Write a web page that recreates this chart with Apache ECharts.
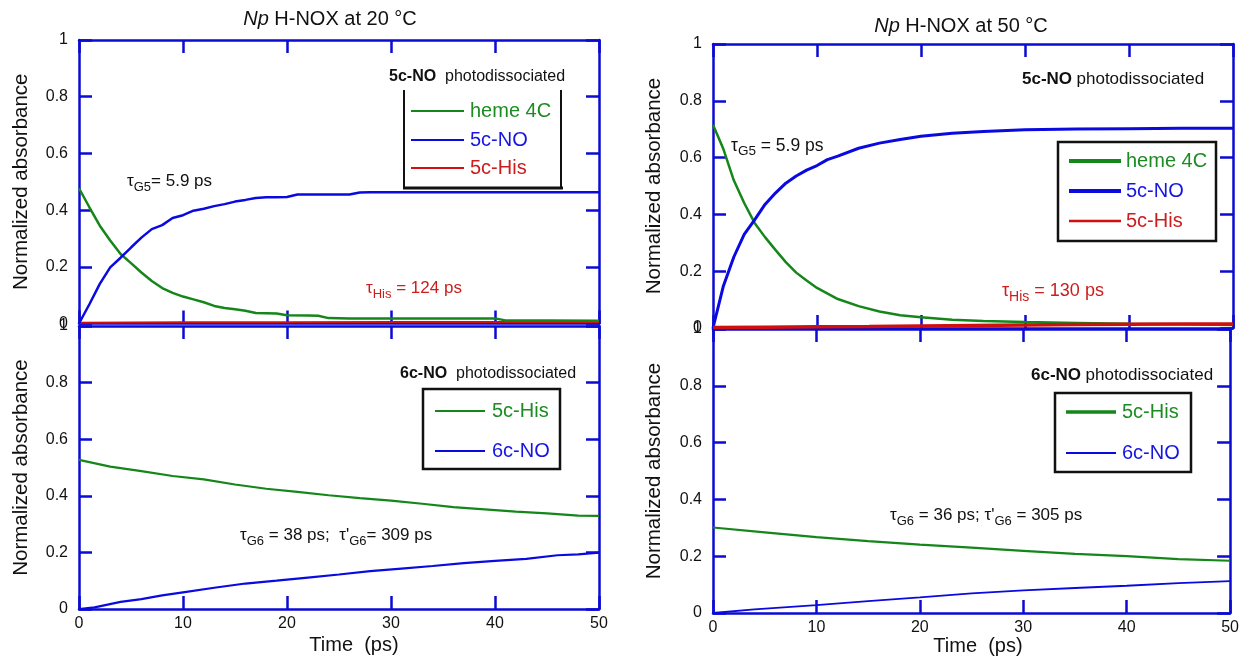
<!DOCTYPE html>
<html>
<head>
<meta charset="utf-8">
<script src="https://cdn.jsdelivr.net/npm/echarts@6/dist/echarts.min.js"></script>
<style>
html,body{margin:0;padding:0;background:#fff;}
#chart{width:1242px;height:657px;}
</style>
</head>
<body>
<div id="chart"></div>
<script>
// ---------------- DATA ----------------
const xTicks = [0, 10, 20, 30, 40, 50];
const yTicks = [0, 0.2, 0.4, 0.6, 0.8, 1];

// Top-left: 20 °C, 5c-NO photodissociated
const tTLheme = [0,1,2,3,4,5,6,7,8,9,10,11,12,13,14,15,16,17,18,19,20,22,23,24,26,28,30,35,40,41,45,50];
const tlHeme  = [0.477,0.41,0.345,0.293,0.245,0.213,0.18,0.15,0.125,0.108,0.095,0.085,0.075,0.062,0.055,0.05,0.045,0.037,0.036,0.035,0.029,0.028,0.027,0.019,0.018,0.018,0.018,0.018,0.018,0.011,0.011,0.01];
const tTLno   = [0,1,2,3,4,5,6,7,8,9,10,11,12,13,14,15,16,17,18,19,20,21,22,24,26,27,28,30,35,40,45,50];
const tlNO    = [0,0.068,0.14,0.198,0.232,0.268,0.303,0.333,0.347,0.372,0.382,0.398,0.405,0.414,0.421,0.43,0.436,0.443,0.445,0.445,0.446,0.455,0.455,0.455,0.455,0.462,0.463,0.463,0.463,0.463,0.463,0.463];
const tTLhis  = [0,10,20,30,40,50];
const tlHis   = [0.003,0.004,0.004,0.005,0.005,0.005];

// Bottom-left: 20 °C, 6c-NO photodissociated
const tBLhis  = [0,3,6,9,12,15,18,21,24,27,30,33,36,39,42,45,48,50];
const blHis   = [0.527,0.503,0.487,0.47,0.458,0.44,0.425,0.414,0.402,0.392,0.383,0.372,0.36,0.352,0.344,0.338,0.33,0.329];
const tBLno   = [0,1.5,4,6,8,10,13,16,19,22,25,28,31,34,37,40,43,46,48,50];
const blNO    = [0,0.006,0.025,0.035,0.048,0.059,0.075,0.09,0.1,0.111,0.122,0.134,0.143,0.152,0.162,0.17,0.177,0.19,0.193,0.199];

// Top-right: 50 °C, 5c-NO photodissociated
const tTRheme = [0,1,2,3,4,5,6,7,8,9,10,12,14,16,18,20,23,26,30,35,40,45,50];
const trHeme  = [0.716,0.63,0.52,0.44,0.37,0.32,0.275,0.232,0.195,0.167,0.141,0.102,0.077,0.058,0.045,0.038,0.029,0.025,0.021,0.018,0.015,0.013,0.011];
const tTRno   = [0,1,2,3,4,5,6,7,8,9,10,11,12,14,16,18,20,23,26,30,35,40,45,50];
const trNO    = [0,0.148,0.25,0.33,0.381,0.435,0.475,0.51,0.535,0.556,0.572,0.593,0.605,0.633,0.651,0.664,0.675,0.686,0.692,0.698,0.701,0.702,0.703,0.703];
const tTRhis  = [0,5,10,15,20,25,30,35,40,45,50];
const trHis   = [0.002,0.003,0.004,0.005,0.007,0.009,0.011,0.012,0.013,0.014,0.014];

// Bottom-right: 50 °C, 6c-NO photodissociated
const tBRhis  = [0,5,10,15,20,25,30,35,40,45,50];
const brHis   = [0.301,0.284,0.267,0.253,0.241,0.23,0.219,0.208,0.2,0.19,0.184];
const tBRno   = [0,4,10,15,20,25,30,35,40,45,50];
const brNO    = [0,0.013,0.028,0.042,0.055,0.069,0.08,0.088,0.096,0.105,0.112];

// ---------------- STYLE ----------------
const FONT = '"Liberation Sans", Arial, sans-serif';
const AX = '#0b0bd2';
const GREEN = '#15861a';
const BLUE = '#0a0ae0';
const RED = '#d01010';
const TXT_GREEN = '#1c8c22';
const TXT_BLUE = '#1616e0';
const TXT_RED = '#cc1c1c';

const grids = [
  {left: 79, width: 520, top: 40, height: 283.5},   // TL
  {left: 79, width: 520, top: 326, height: 283},    // BL
  {left: 713, width: 520, top: 44, height: 284},    // TR
  {left: 713, width: 520, top: 329, height: 284}    // BR
];

function pairs(t, v) { return t.map((x, i) => [x, v[i]]); }

const lineCommon = {
  show: true, onZero: false,
  lineStyle: {color: AX, width: 2.5}
};
const tickCommon = {show: true, inside: true, length: 13, lineStyle: {color: AX, width: 2.5}};

const xAxes = [];
const yAxes = [];
for (let g = 0; g < 4; g++) {
  const showLab = (g === 1 || g === 3);
  xAxes.push({
    type: 'value', gridIndex: g, position: 'bottom', min: xTicks[0], max: xTicks[xTicks.length - 1], interval: 10,
    axisLine: lineCommon, axisTick: tickCommon, splitLine: {show: false},
    axisLabel: {show: showLab, fontSize: 16, color: '#111', fontFamily: FONT, margin: 7}
  });
}
for (let g = 0; g < 4; g++) {
  xAxes.push({
    type: 'value', gridIndex: g, position: 'top', min: 0, max: 50, interval: 10,
    axisLine: lineCommon, axisTick: tickCommon, splitLine: {show: false},
    axisLabel: {show: false}
  });
}
for (let g = 0; g < 4; g++) {
  yAxes.push({
    type: 'value', gridIndex: g, position: 'left', min: yTicks[0], max: yTicks[yTicks.length - 1], interval: 0.2,
    axisLine: lineCommon, axisTick: tickCommon, splitLine: {show: false},
    axisLabel: {show: true, fontSize: 16, color: '#111', fontFamily: FONT, margin: 11},
    name: 'Normalized absorbance', nameLocation: 'middle', nameGap: (g < 2 ? 47 : 48),
    nameTextStyle: {fontSize: 20.5, color: '#111', fontFamily: FONT}
  });
}
for (let g = 0; g < 4; g++) {
  yAxes.push({
    type: 'value', gridIndex: g, position: 'right', min: 0, max: 1, interval: 0.2,
    axisLine: lineCommon, axisTick: tickCommon, splitLine: {show: false},
    axisLabel: {show: false}
  });
}

function ser(name, g, t, v, color, width, z) {
  return {
    name: name, type: 'line', xAxisIndex: g, yAxisIndex: g,
    data: pairs(t, v), showSymbol: false, symbol: 'none', animation: false,
    lineStyle: {color: color, width: width}, itemStyle: {color: color}, z: z || 2
  };
}

const series = [
  ser('5c-His', 0, tTLhis, tlHis, RED, 2, 2),
  ser('heme 4C', 0, tTLheme, tlHeme, GREEN, 2.5, 3),
  ser('5c-NO', 0, tTLno, tlNO, BLUE, 2.5, 4),
  ser('5c-His', 1, tBLhis, blHis, GREEN, 2.2, 3),
  ser('6c-NO', 1, tBLno, blNO, BLUE, 2.2, 4),
  ser('heme 4C', 2, tTRheme, trHeme, GREEN, 2.5, 3),
  ser('5c-NO', 2, tTRno, trNO, BLUE, 3, 4),
  ser('5c-His', 2, tTRhis, trHis, RED, 3.5, 5),
  ser('5c-His', 3, tBRhis, brHis, GREEN, 2.2, 3),
  ser('6c-NO', 3, tBRno, brNO, BLUE, 1.8, 4)
];

function txt(x, y, text, opts) {
  return {
    type: 'text', x: x, y: y, z: 100,
    style: Object.assign({text: text, fontFamily: FONT, fontSize: 16, fill: '#111', align: 'left', verticalAlign: 'middle'}, opts || {})
  };
}
function hline(x1, x2, y, color, w) {
  return {type: 'line', z: 100, shape: {x1: x1, y1: y, x2: x2, y2: y}, style: {stroke: color, lineWidth: w}};
}
function vline(x, y1, y2, color, w) {
  return {type: 'line', z: 100, shape: {x1: x, y1: y1, x2: x, y2: y2}, style: {stroke: color, lineWidth: w}};
}
function rect(x, y, w, h) {
  return {type: 'rect', z: 99, shape: {x: x, y: y, width: w, height: h}, style: {fill: '#fff', stroke: '#111', lineWidth: 2.5}};
}
const tauRich = function (size, color) {
  return {
    t: {fontSize: size, fill: color, fontFamily: FONT, verticalAlign: 'top', lineHeight: size + 3},
    s: {fontSize: size - 4, fill: color, fontFamily: FONT, verticalAlign: 'top', lineHeight: size - 1, padding: [8, 0, 0, 0]}
  };
};
const headRich = function (size) {
  return {
    b: {fontSize: size, fontWeight: 'bold', fill: '#111', fontFamily: FONT},
    n: {fontSize: size, fill: '#111', fontFamily: FONT}
  };
};
const titleRich = {
  i: {fontSize: 20, fontStyle: 'italic', fill: '#111', fontFamily: FONT},
  n: {fontSize: 20, fill: '#111', fontFamily: FONT}
};

const graphics = [
  txt(330, 19, '{i|Np}{n| H-NOX at 20 °C}', {align: 'center', rich: titleRich}),
  txt(961, 26, '{i|Np}{n| H-NOX at 50 °C}', {align: 'center', rich: titleRich}),
  txt(354, 645, 'Time  (ps)', {align: 'center', fontSize: 20}),
  txt(978, 646, 'Time  (ps)', {align: 'center', fontSize: 20}),

  txt(389, 77, '{b|5c-NO}  {n|photodissociated}', {rich: headRich(16)}),
  txt(1022, 79, '{b|5c-NO} {n|photodissociated}', {rich: headRich(17)}),
  txt(400, 374, '{b|6c-NO}  {n|photodissociated}', {rich: headRich(16)}),
  txt(1031, 375, '{b|6c-NO} {n|photodissociated}', {rich: headRich(17)}),

  vline(404, 90, 189, '#111', 2),
  vline(561, 90, 189, '#111', 2),
  hline(403, 563, 188, '#111', 3),
  hline(411, 464, 111, GREEN, 2), txt(470, 111, 'heme 4C', {fontSize: 20, fill: TXT_GREEN}),
  hline(411, 464, 140, BLUE, 2),  txt(470, 140, '5c-NO', {fontSize: 20, fill: TXT_BLUE}),
  hline(411, 464, 168, RED, 2),   txt(470, 168, '5c-His', {fontSize: 20, fill: TXT_RED}),

  rect(1058, 142, 158, 99),
  hline(1069, 1121, 161, GREEN, 4), txt(1126, 161, 'heme 4C', {fontSize: 20, fill: TXT_GREEN}),
  hline(1069, 1121, 191, BLUE, 4),  txt(1126, 191, '5c-NO', {fontSize: 20, fill: TXT_BLUE}),
  hline(1069, 1121, 221, RED, 2.5), txt(1126, 221, '5c-His', {fontSize: 20, fill: TXT_RED}),

  rect(423, 389, 137, 80),
  hline(435, 485, 411, GREEN, 2), txt(492, 411, '5c-His', {fontSize: 20, fill: TXT_GREEN}),
  hline(435, 485, 451, BLUE, 2),  txt(492, 451, '6c-NO', {fontSize: 20, fill: TXT_BLUE}),

  rect(1055, 393, 136, 79),
  hline(1066, 1116, 412, GREEN, 3.5), txt(1122, 412, '5c-His', {fontSize: 20, fill: TXT_GREEN}),
  hline(1066, 1116, 453, BLUE, 2),    txt(1122, 453, '6c-NO', {fontSize: 20, fill: TXT_BLUE}),

  txt(127, 183, '{t|τ}{s|G5}{t|= 5.9 ps}', {rich: tauRich(17, '#111')}),
  txt(366, 290, '{t|τ}{s|His}{t| = 124 ps}', {rich: tauRich(17, TXT_RED)}),
  txt(731, 147, '{t|τ}{s|G5}{t| = 5.9 ps}', {rich: tauRich(17.5, '#111'), backgroundColor: '#fff', padding: [0, 2, 0, 0]}),
  txt(1002, 293, '{t|τ}{s|His}{t| = 130 ps}', {rich: tauRich(18, TXT_RED)}),
  txt(240, 537, '{t|τ}{s|G6}{t| = 38 ps;  τ\'}{s|G6}{t|= 309 ps}', {rich: tauRich(17, '#111')}),
  txt(890, 517, '{t|τ}{s|G6}{t| = 36 ps; τ\'}{s|G6}{t| = 305 ps}', {rich: tauRich(17, '#111')})
];

const chart = echarts.init(document.getElementById('chart'), null, {renderer: 'canvas'});
chart.setOption({
  animation: false,
  backgroundColor: '#fff',
  textStyle: {fontFamily: FONT},
  grid: grids,
  xAxis: xAxes,
  yAxis: yAxes,
  series: series,
  graphic: graphics
});
</script>
</body>
</html>
